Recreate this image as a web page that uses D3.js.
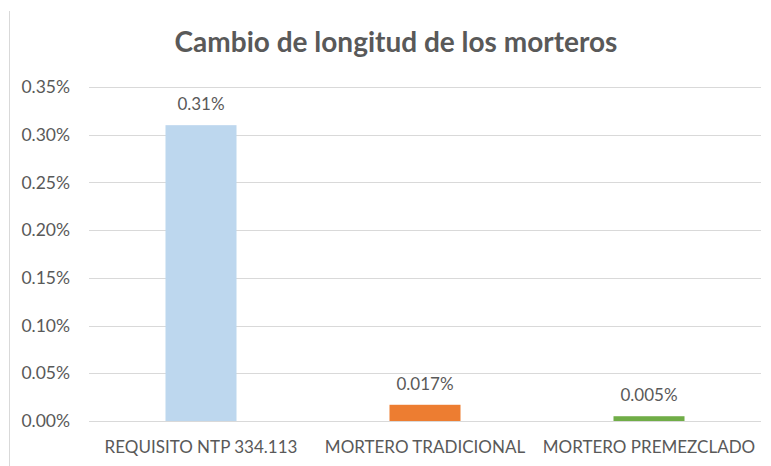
<!DOCTYPE html>
<html>
<head>
<meta charset="utf-8">
<script src="https://cdn.jsdelivr.net/npm/d3@7"></script>
<style>
  body { margin: 0; background: #fff; }
  text { font-family: Lato, "Open Sans", sans-serif; fill: #595959; }
</style>
</head>
<body>
<div id="chart"></div>
<script>
// data
var categories = ["REQUISITO NTP 334.113", "MORTERO TRADICIONAL", "MORTERO PREMEZCLADO"];
var values = [0.31, 0.017, 0.005];
var valueLabels = ["0.31%", "0.017%", "0.005%"];
var barColors = ["#BDD7EE", "#ED7D31", "#70AD47"];
var yTicks = [0, 0.05, 0.10, 0.15, 0.20, 0.25, 0.30, 0.35];

var width = 771, height = 466;
var margin = {top: 87, right: 10, bottom: 45, left: 89};

var svg = d3.select("#chart").append("svg")
    .attr("width", width).attr("height", height);

// chart area border (only the left edge shows in the crop)
svg.append("line")
    .attr("x1", 9.5).attr("x2", 9.5).attr("y1", 11).attr("y2", height)
    .attr("stroke", "#D9D9D9").attr("stroke-width", 1);

var x = d3.scaleBand()
    .domain(categories)
    .range([margin.left, width - margin.right])
    .paddingInner(0.683).paddingOuter(0.3415);

var y = d3.scaleLinear()
    .domain([0, 0.35])
    .range([height - margin.bottom, margin.top]);

// title
svg.append("text")
    .attr("x", 396).attr("y", 52)
    .attr("text-anchor", "middle")
    .attr("font-size", "28px").attr("font-weight", "bold")
    .text("Cambio de longitud de los morteros");

// gridlines
svg.append("g").selectAll("line")
    .data(yTicks).enter().append("line")
    .attr("x1", margin.left).attr("x2", width - margin.right)
    .attr("y1", function(d){ return Math.round(y(d)) + 0.5; })
    .attr("y2", function(d){ return Math.round(y(d)) + 0.5; })
    .attr("stroke", "#D9D9D9").attr("stroke-width", 1);

// y axis labels
var yAxis = d3.axisLeft(y).tickValues(yTicks)
    .tickFormat(function(d){ return d3.format(".2f")(d) + "%"; })
    .tickSize(0).tickPadding(19);
var gy = svg.append("g").attr("transform", "translate(" + margin.left + ",0)").call(yAxis);
gy.select(".domain").remove();
gy.selectAll("text").attr("font-size", "17.5px").attr("fill", "#595959")
    .style("font-family", "Lato, 'Open Sans', sans-serif");

// bars
svg.append("g").selectAll("rect")
    .data(values).enter().append("rect")
    .attr("x", function(d, i){ return x(categories[i]); })
    .attr("width", x.bandwidth())
    .attr("y", function(d){ return y(d); })
    .attr("height", function(d){ return y(0) - y(d); })
    .attr("fill", function(d, i){ return barColors[i]; });

// value labels
svg.append("g").selectAll("text")
    .data(values).enter().append("text")
    .attr("x", function(d, i){ return x(categories[i]) + x.bandwidth() / 2; })
    .attr("y", function(d){ return y(d) - 15; })
    .attr("text-anchor", "middle")
    .attr("font-size", "17px")
    .text(function(d, i){ return valueLabels[i]; });

// x axis labels
var xAxis = d3.axisBottom(x).tickSize(0).tickPadding(20);
var gx = svg.append("g").attr("transform", "translate(0," + y(0) + ")").call(xAxis);
gx.select(".domain").remove();
gx.selectAll("text").attr("font-size", "17px").attr("fill", "#595959")
    .style("font-family", "Lato, 'Open Sans', sans-serif");
</script>
</body>
</html>
